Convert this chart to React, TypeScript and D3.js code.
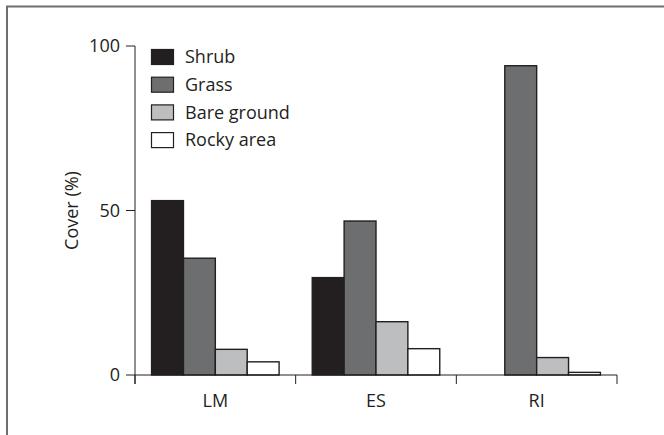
import { useEffect, useRef } from "react";
import * as d3 from "d3";

// sites on the x axis
const sites = ["LM", "ES", "RI"];
// cover types
const coverTypes = ["Shrub", "Grass", "Bare ground", "Rocky area"];
const coverColors = ["#231f20", "#6d6e70", "#bcbec0", "#ffffff"];
// cover (%) per site, one array per cover type
const shrub = [53, 29.6, 0];
const grass = [35.5, 46.8, 94];
const bareGround = [7.8, 16.2, 5.3];
const rockyArea = [4, 8, 0.8];
const yTicks = [0, 50, 100];

const App = () => {
  const ref = useRef<SVGSVGElement>(null);
  const width = 664;
  const height = 435;
  const margin = { top: 46, left: 135, right: 47, bottom: 60 };
  const font = "'Open Sans', 'Noto Sans', sans-serif";
  const fontSize = 18;

  useEffect(() => {
    const svg = d3.select(ref.current);
    svg.selectAll("*").remove();

    const values = [shrub, grass, bareGround, rockyArea];
    const x0 = d3
      .scaleBand()
      .domain(sites)
      .range([margin.left, width - margin.right]);
    const x1 = d3
      .scaleBand()
      .domain(coverTypes)
      .range([0, x0.bandwidth()])
      .paddingInner(0)
      .paddingOuter(0.52);
    const y = d3
      .scaleLinear()
      .domain([0, 100])
      .range([height - margin.bottom, margin.top]);

    // frame (only top and left visible)
    svg
      .append("path")
      .attr("d", `M7,${height + 5} V6.5 H${width + 5}`)
      .attr("fill", "none")
      .attr("stroke", "#6d6e70")
      .attr("stroke-width", 2);

    // bars
    const g = svg.append("g");
    sites.forEach((site, i) => {
      coverTypes.forEach((c, j) => {
        const v = values[j][i];
        if (v <= 0) return;
        g.append("rect")
          .attr("x", x0(site)! + x1(c)!)
          .attr("y", y(v))
          .attr("width", x1.bandwidth())
          .attr("height", y(0) - y(v))
          .attr("fill", coverColors[j])
          .attr("stroke", "#231f20")
          .attr("stroke-width", 1.4);
      });
    });

    // x axis
    const xAxis = svg.append("g").attr("stroke", "#231f20").attr("stroke-width", 1);
    xAxis
      .append("line")
      .attr("x1", margin.left)
      .attr("x2", width - margin.right)
      .attr("y1", y(0))
      .attr("y2", y(0));
    const bounds = sites.map((s) => x0(s)!).concat([x0.range()[1]]);
    xAxis
      .selectAll("line.tick")
      .data(bounds)
      .join("line")
      .attr("class", "tick")
      .attr("x1", (d) => d)
      .attr("x2", (d) => d)
      .attr("y1", y(0))
      .attr("y2", y(0) + 9);
    svg
      .append("g")
      .selectAll("text")
      .data(sites)
      .join("text")
      .attr("x", (d) => x0(d)! + x0.bandwidth() / 2)
      .attr("y", y(0) + 32)
      .attr("text-anchor", "middle")
      .attr("font-family", font)
      .attr("font-size", fontSize)
      .attr("fill", "#231f20")
      .text((d) => d);

    // y axis
    const yAxis = svg.append("g").attr("stroke", "#231f20").attr("stroke-width", 1);
    yAxis
      .append("line")
      .attr("x1", margin.left)
      .attr("x2", margin.left)
      .attr("y1", y(100))
      .attr("y2", y(0) + 9);
    yAxis
      .selectAll("line.tick")
      .data(yTicks)
      .join("line")
      .attr("class", "tick")
      .attr("x1", margin.left - 9)
      .attr("x2", margin.left)
      .attr("y1", (d) => y(d))
      .attr("y2", (d) => y(d));
    svg
      .append("g")
      .selectAll("text")
      .data(yTicks)
      .join("text")
      .attr("x", margin.left - 15)
      .attr("y", (d) => y(d))
      .attr("dy", "0.35em")
      .attr("text-anchor", "end")
      .attr("font-family", font)
      .attr("font-size", fontSize)
      .attr("fill", "#231f20")
      .text((d) => d);

    svg
      .append("text")
      .attr("transform", `translate(78, ${y(50)}) rotate(-90)`)
      .attr("text-anchor", "middle")
      .attr("font-family", font)
      .attr("font-size", fontSize)
      .attr("fill", "#231f20")
      .text("Cover (%)");

    // legend
    const legend = svg.append("g").attr("transform", "translate(151, 49)");
    coverTypes.forEach((c, j) => {
      const row = legend.append("g").attr("transform", `translate(0, ${j * 27.7})`);
      row
        .append("rect")
        .attr("x", 0.5)
        .attr("y", 0.5)
        .attr("width", 22)
        .attr("height", 15)
        .attr("fill", coverColors[j])
        .attr("stroke", "#231f20")
        .attr("stroke-width", 1.2);
      row
        .append("text")
        .attr("x", 34)
        .attr("y", 8)
        .attr("dy", "0.35em")
        .attr("font-family", font)
        .attr("font-size", fontSize)
        .attr("fill", "#231f20")
        .text(c);
    });
  }, []);

  return (
    <svg
      ref={ref}
      width={width}
      height={height}
      style={{ position: "absolute", left: 0, top: 0, background: "#fff" }}
    />
  );
};

export default App;
